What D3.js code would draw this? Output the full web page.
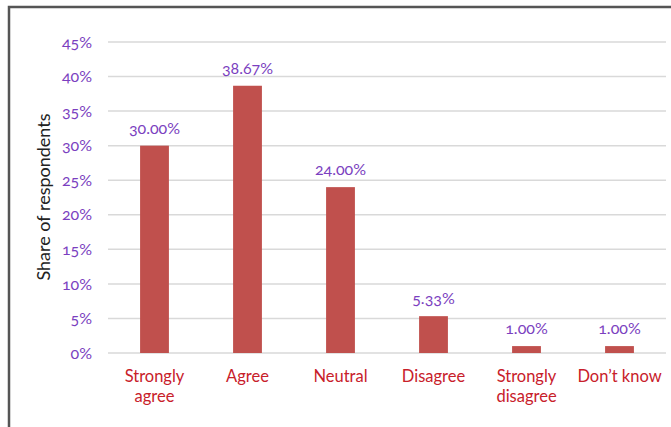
<!DOCTYPE html>
<html><head><meta charset="utf-8">
<script src="https://cdn.jsdelivr.net/npm/d3@7"></script>
<style>
body{margin:0;background:#fff;}
text{font-family:Lato,"Open Sans",sans-serif;font-variant-numeric:oldstyle-nums;}
</style></head>
<body><svg id="c" width="671" height="427"></svg>
<script>
const categories = ["Strongly agree","Agree","Neutral","Disagree","Strongly disagree","Don't know"];
const values = [30.00, 38.67, 24.00, 5.33, 1.00, 1.00];
const yTicks = [0,5,10,15,20,25,30,35,40,45];

const svg = d3.select("#c");
const x = d3.scaleBand().domain(categories).range([108,666]).paddingInner(0.69).paddingOuter(0.345);
const y = d3.scaleLinear().domain([0,45]).range([353,42]);

// frame
svg.append("path").attr("d","M9,427 V7 H671").attr("fill","none").attr("stroke","#555").attr("stroke-width",2.5);

// grid
svg.append("g").selectAll("line").data(yTicks).join("line")
  .attr("x1",108).attr("x2",666).attr("y1",d=>y(d)).attr("y2",d=>y(d))
  .attr("stroke","#d9d9d9").attr("stroke-width",1.5);

// y axis labels
const yAxis = d3.axisLeft(y).tickValues(yTicks).tickFormat(d=>d+"%").tickSize(0).tickPadding(15);
const ga = svg.append("g").attr("transform","translate(107,0)").call(yAxis);
ga.select(".domain").remove();
ga.selectAll("text").attr("font-size",16).attr("fill","#7b3fc0").attr("font-family","Lato,sans-serif");

// bars
svg.append("g").selectAll("rect").data(values).join("rect")
  .attr("x",(d,i)=>x(categories[i])).attr("width",x.bandwidth())
  .attr("y",d=>y(d)).attr("height",d=>y(0)-y(d)).attr("fill","#c0504d");

// value labels
svg.append("g").selectAll("text").data(values).join("text")
  .attr("x",(d,i)=>x(categories[i])+x.bandwidth()/2).attr("y",d=>y(d)-12)
  .attr("text-anchor","middle").attr("font-size",16).attr("fill","#7b3fc0")
  .text(d=>d.toFixed(2)+"%");

// category labels
const xl = svg.append("g").selectAll("text").data(categories).join("text")
  .attr("x",d=>x(d)+x.bandwidth()/2).attr("y",382)
  .attr("text-anchor","middle").attr("font-size",16.5).attr("fill","#c8202a");
xl.each(function(d){
  const words = d==="Don't know"?["Don’t know"]:d.split(" ");
  const t=d3.select(this);
  words.forEach((w,i)=>t.append("tspan").attr("x",x(d)+x.bandwidth()/2).attr("dy",i?20:0).text(w));
});

// axis title
svg.append("text").attr("transform","translate(50,197) rotate(-90)")
  .attr("text-anchor","middle").attr("font-size",18).attr("fill","#222")
  .style("font-variant-numeric","normal").text("Share of respondents");
</script></body></html>
